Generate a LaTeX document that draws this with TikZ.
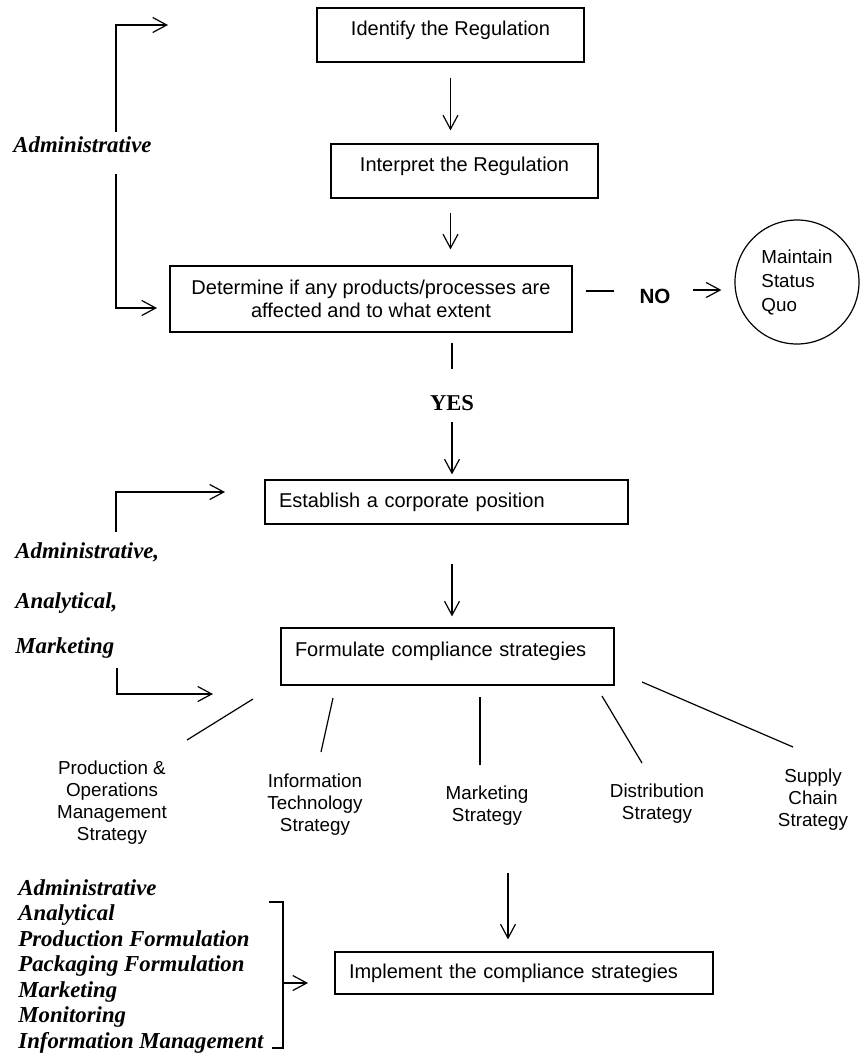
\documentclass[tikz,border=0pt]{standalone}
\usepackage{fontspec}
\setmainfont{Liberation Sans}
\newfontfamily\timesfont{Liberation Serif}
\usetikzlibrary{arrows.meta}

\tikzset{
  box/.style = {draw, semithick, inner xsep=7pt, font=\fontsize{10}{11.5}\selectfont},
  arr/.style = {semithick, -{Straight Barb[length=7pt,width=7.5pt]}},
  dept/.style = {inner sep=0pt, anchor=base west, align=left,
    font=\timesfont\bfseries\itshape\fontsize{11.4}{12.75}\selectfont},
  strat/.style = {align=center, font=\fontsize{9.4}{11}\selectfont},
}

\begin{document}
\begin{tikzpicture}[x=0.5pt, y=-0.5pt]
		\useasboundingbox (0,0) rectangle (862,1057);
		
		\node (idr) at (450.5,35) [box, minimum width=133.5pt, minimum height=27pt, text depth=6.3pt] {Identify the Regulation};
		\node (intp) at (464.5,171) [box, minimum width=133.5pt, minimum height=27pt, text depth=6.3pt] {Interpret the Regulation};
		\node (det) at (371,299) [box, minimum width=201pt, minimum height=33pt, align=center] {Determine if any products/processes are\\ affected and to what extent};
		
		\draw [arr, shorten <=7.5pt, shorten >=6.5pt] (idr.south) -- (idr.south |- intp.north);
		\draw [arr, shorten <=7pt, shorten >=8pt] (idr.south |- intp.south) -- (idr.south |- det.north);
		
		% left side, first group
		\node (adm1) at (13,152) [dept] {Administrative};
		\coordinate (a1) at (116,132);
		\coordinate (a2) at (168,25);
		\coordinate (a3) at (116,174);
		\coordinate (a4) at (157,308);
		\draw [arr] (a1) |- (a2);
		\draw [arr] (a3) |- (a4);
		
		% NO branch
		\node (msq) at (797,282) [draw, semithick, circle, minimum size=62pt, align=left, font=\fontsize{9.4}{12}\selectfont] {Maintain\\Status\\Quo};
		\node (no) at (655,296) [font=\bfseries\fontsize{10.3}{12}\selectfont] {NO};
		\draw [semithick] (det.east) ++(13,-8) -- ++(28,0);
		\draw [arr] (msq.west) ++(-41,8) -- ++(28,0);
		
		% YES branch
		\node (yes) at (452,403) [font=\timesfont\bfseries\fontsize{11.3}{13}\selectfont] {YES};
		\node (est) at (446.5,502) [box, minimum height=22pt, text width=167.5pt, align=left] {Establish a corporate position};
		\node (fcs) at (447.5,656.5) [box, minimum height=28.5pt, text width=152.5pt, align=left, text depth=6.8pt] {Formulate compliance strategies};
		
		\draw [semithick] (det.south -| yes) ++(0,10) -- ++(0,26);
		\draw [arr, shorten >=2.5pt] (yes) ++(0,19) -- (yes |- est.north);
		\draw [arr, shorten <=19.5pt, shorten >=5.5pt] (yes |- est.south) -- (yes |- fcs.north);
		
		% left side, second group
		\node (adm2) at (15,558) [dept] {Administrative,};
		\node (ana2) at (15,608) [dept] {Analytical,};
		\node (mkt2) at (15,653) [dept] {Marketing};
		\coordinate (b1) at (116,532);
		\coordinate (b2) at (225,492);
		\coordinate (b3) at (117,668);
		\coordinate (b4) at (213,694);
		\draw [arr] (b1) |- (b2);
		\draw [arr] (b3) |- (b4);
		
		% strategies
		\node (pom) at (112,803) [strat] {Production \&\\Operations\\Management\\Strategy};
		\node (its) at (315,805) [strat] {Information\\Technology\\Strategy};
		\node (mks) at (487,806) [strat] {Marketing\\Strategy};
		\node (dis) at (657,804) [strat] {Distribution\\Strategy};
		\node (scs) at (813,800) [strat] {Supply\\Chain\\Strategy};
		
		\draw [semithick] (pom) ++(75,-63) -- ++(66,-41);
		\draw [semithick] (its) ++(6,-53) -- ++(12,-54);
		\draw [semithick] (mks) ++(-7,-41) -- ++(0,-68);
		\draw [semithick] (dis) ++(-15,-41) -- ++(-40,-67);
		\draw [semithick] (scs) ++(-20,-53) -- ++(-151,-65);
		
		% implementation
		\node (imp) at (524,973) [box, minimum height=21pt, text width=175pt, align=left] {Implement the compliance strategies};
		\coordinate (impin) at (508,873);
		\draw [arr, shorten >=6pt] (impin) -- (impin |- imp.north);
		
		% base of the last line
		\node (depts) at (18,1048) [dept] {Administrative\\Analytical\\Production Formulation\\Packaging Formulation\\Marketing\\Monitoring\\Information Management};
		\coordinate (c1) at (269,902);
		\coordinate (c2) at (283,902);
		\coordinate (c3) at (283,1048);
		\coordinate (c4) at (272,1048);
		\coordinate (c5) at (283,983);
		\coordinate (c6) at (308,983);
		\draw [semithick] (c1) -- (c2) -- (c3) -- (c4);
		\draw [arr] (c5) -- (c6);
\end{tikzpicture}
\end{document}
